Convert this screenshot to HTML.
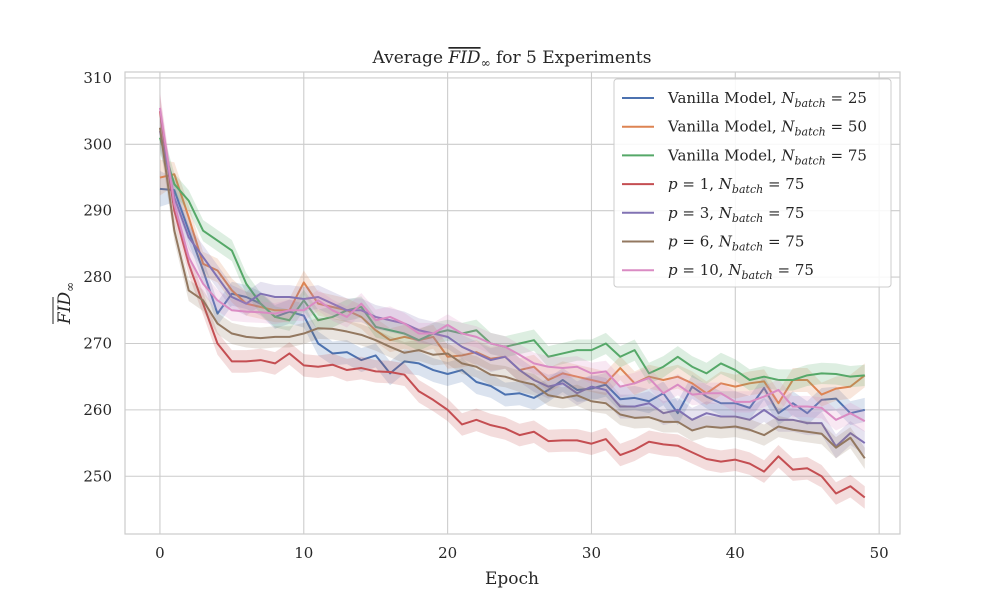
<!DOCTYPE html>
<html><head><meta charset="utf-8"><style>
body{margin:0;background:#fff}
svg text{font-family:"DejaVu Serif","Liberation Serif",serif;fill:#262626}
</style></head><body>
<svg id="chart" width="1000" height="600"></svg>
<script>
const epochs=[...Array(50).keys()];
const xTicks=[0,10,20,30,40,50];
const yTicks=[250,260,270,280,290,300,310];
const seriesNames=["Vanilla Model, ","Vanilla Model, ","Vanilla Model, ","p = 1, ","p = 3, ","p = 6, ","p = 10, "];
const batchSizes=[25,50,75,75,75,75,75];
const colors=["#4c72b0","#dd8452","#55a868","#c44e52","#8172b3","#937860","#da8bc3"];
const bandHalf=[1.8,1.8,1.6,1.7,1.8,1.6,1.6];
const sVanilla25=[293.3,293.1,287,281,274.5,277.5,277,276,274,274.8,274.2,270,268.5,268.7,267.5,268.2,265.5,267.3,267,266,265.4,266,264.2,263.6,262.3,262.5,261.8,263,264.5,263,263.2,263.8,261.6,261.8,261.3,262.5,259.5,263.5,262,261,261,260.3,263.3,259.5,261,259.5,261.5,261.7,259.5,260];
const sVanilla50=[295,295.5,289,282,281,278,276,275.5,275,275,279.2,276,275.5,275,274,272,270.5,271,270.5,271,268,268.2,268.7,267.7,268,266,266.5,264.5,265.5,265,264.5,264,266.3,264,265,264.5,265,264,262.5,264,263.5,264,264.3,261,264.5,264.5,262.3,263.2,263.5,265.2];
const sVanilla75=[301,294,291.5,287,285.5,284,279,276,274,273.5,276.5,273.5,274,275,275.5,272.5,272,271.5,270.5,271.5,272,271.5,272,270,269.5,270,270.5,268,268.5,269,269,270,268,269,265.5,266.5,268,266.5,265.5,267,266,264.5,265,264.5,264.5,265.2,265.5,265.4,265,265.2];
const sP1=[305,290,282,276,270,267.3,267.3,267.5,267,268.5,266.7,266.5,266.8,266,266.3,265.8,265.7,265.3,262.8,261.5,260,257.8,258.5,257.7,257.2,256.2,256.7,255.3,255.4,255.4,254.9,255.6,253.2,254,255.2,254.8,254.6,253.6,252.6,252.2,252.5,251.9,250.7,253,251,251.2,250,247.4,248.5,246.8];
const sP3=[302,292,286,283,280,277,276,277.5,277,277,276.7,277,276,275,275,274,273.5,273,272,271.5,271,269.5,268.5,267.5,268,266,264.5,263.5,264,262.5,263.5,263,260.5,260.5,261,259.5,260,258.5,259.5,259,259,258.5,260,258.5,258.5,258,258,254.5,256.5,255];
const sP6=[302.5,287,278,276.5,273,271.5,271,270.8,271,271,271.5,272.3,272.2,271.8,271.3,270.5,269.5,268.6,269,268.3,268.5,267,266.5,265.3,265,264.3,263.8,262.2,261.8,262.2,261.3,261,259.3,258.8,258.9,258.2,258.2,256.9,257.5,257.3,257.5,257,256.2,257.5,257,256.7,256.4,254.3,255.8,252.7];
const sP10=[305.5,291,283,279,276.5,275,274.8,274.7,274.5,275,275,276.5,275,274,276,273.5,274,273,271.5,271.5,272.8,271.5,271,270,269.5,268.3,267,266.5,266.3,266.5,265.5,265.8,263.5,264,264.8,262.5,263.8,262.3,262.5,262.5,261.2,261.2,262,263,260.5,260.5,260.3,258.5,259.5,258.3];
const allSeries=[sVanilla25,sVanilla50,sVanilla75,sP1,sP3,sP6,sP10];

const NS="http://www.w3.org/2000/svg";
const svg=document.getElementById('chart');
const L=125,R=900,T=72,B=534;
const xMin=-2.43,xMax=51.45,yMin=241.3,yMax=310.9;
const xs=v=>L+(v-xMin)/(xMax-xMin)*(R-L);
const ys=v=>B-(v-yMin)/(yMax-yMin)*(B-T);
function mk(tag,attrs,parent){const e=document.createElementNS(NS,tag);for(const k in attrs)e.setAttribute(k,attrs[k]);(parent||svg).appendChild(e);return e;}

const grid=mk('g',{});


xTicks.forEach(t=>{
  mk('line',{x1:xs(t),x2:xs(t),y1:T,y2:B,stroke:"#cccccc","stroke-width":1.1},grid);
  const tx=mk('text',{x:xs(t),y:B+24,"text-anchor":"middle","font-size":15});
  tx.textContent=t;
  
  
});
yTicks.forEach(t=>{
  mk('line',{x1:L,x2:R,y1:ys(t),y2:ys(t),stroke:"#cccccc","stroke-width":1.1},grid);
  const tx=mk('text',{x:L-13,y:ys(t)+5,"text-anchor":"end","font-size":15});
  tx.textContent=t;
  
  
});
const frame=mk('rect',{x:L,y:T,width:R-L,height:B-T,fill:"none",stroke:"#cccccc","stroke-width":1.2});



allSeries.forEach((s,i)=>{
  const g=mk('g',{});
  
  
  const up=s.map((v,j)=>xs(epochs[j])+','+ys(v+bandHalf[i]*(j==0?1.5:1)));
  const dn=s.map((v,j)=>xs(epochs[j])+','+ys(v-bandHalf[i]*(j==0?1.5:1))).reverse();
  const band=mk('polygon',{points:up.concat(dn).join(' '),fill:colors[i],"fill-opacity":0.2,stroke:"none"},g);
  
  
  const line=mk('polyline',{points:s.map((v,j)=>xs(epochs[j])+','+ys(v)).join(' '),fill:"none",stroke:colors[i],"stroke-width":2,"stroke-linejoin":"round"},g);
  
  
});

const lg=mk('g',{});


mk('rect',{x:614,y:79,width:277,height:208,rx:3,fill:"#fff","fill-opacity":0.85,stroke:"#cccccc"},lg);
seriesNames.forEach((n,i)=>{
  const y=98+i*28.7;
  const e=mk('g',{},lg);
  
  
  mk('line',{x1:622,x2:654,y1:y,y2:y,stroke:colors[i],"stroke-width":2},e);
  const t=mk('text',{x:668,y:y+5,"font-size":15},e);
  const isP=n.startsWith('p');
  if(isP){
    t.innerHTML='<tspan font-style="italic">p</tspan>'+n.slice(1).replace(/ /g,'').replace('=',' = ').replace(',',', ')+'<tspan font-style="italic">N</tspan><tspan font-style="italic" font-size="11" dy="4">batch</tspan><tspan dy="-4"> = '+batchSizes[i]+'</tspan>';
  } else {
    t.innerHTML=n+'<tspan font-style="italic">N</tspan><tspan font-style="italic" font-size="11" dy="4">batch</tspan><tspan dy="-4"> = '+batchSizes[i]+'</tspan>';
  }
});
</script>
<svg width="1000" height="600" style="position:absolute;left:0;top:0;pointer-events:none">
<text x="512" y="63" text-anchor="middle" font-size="17" font-family="DejaVu Serif, serif" fill="#262626">Average <tspan font-style="italic" text-decoration="overline">FID</tspan><tspan font-size="12" dy="4">∞</tspan><tspan dy="-4"> for 5 Experiments</tspan></text>
<text x="512" y="584" text-anchor="middle" font-size="17" font-family="DejaVu Serif, serif" fill="#262626">Epoch</text>
<g transform="translate(70,303) rotate(-90)">
<text x="0" y="0" text-anchor="middle" font-size="17" font-family="DejaVu Serif, serif" fill="#262626"><tspan font-style="italic">FID</tspan><tspan font-size="12" dy="4">∞</tspan></text>
<line x1="-21" x2="6" y1="-17" y2="-17" stroke="#262626" stroke-width="1"/>
</g>
</svg>
</body></html>
